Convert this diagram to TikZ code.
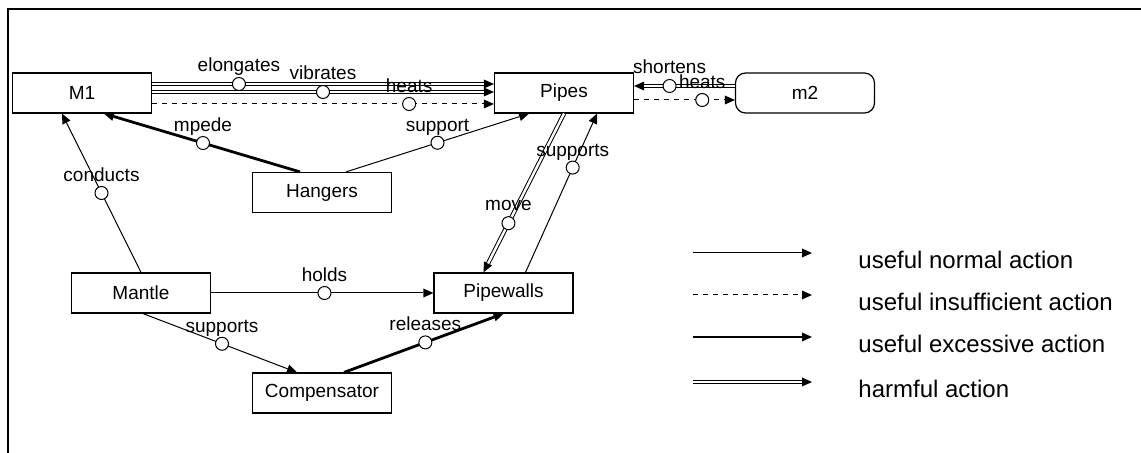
\documentclass[tikz,border=0pt]{standalone}
\usepackage{fontspec}
\setmainfont{Liberation Sans}
\usetikzlibrary{positioning, arrows.meta}

\tikzset{
  box/.style={draw, line width=0.6pt, minimum width=69.5pt, minimum height=20pt, inner sep=0pt, font=\fontsize{9.5}{11}\selectfont},
  mbox/.style={box, rounded corners=5pt},
  ring/.style={circle, draw, solid, fill=white, line width=0.5pt, minimum size=6.5pt, inner sep=0pt},
  lbl/.style={font=\fontsize{9.5}{11}\selectfont, inner sep=1.8pt, text depth=0pt},
  key/.style={font=\fontsize{12}{14}\selectfont, inner sep=0pt},
  tip/.style={-{Triangle[length=5pt, width=4.5pt, line width=0pt]}},
  normal/.style={line width=0.5pt, tip},
  insuff/.style={normal, dash pattern=on 2.5pt off 2.5pt},
  excess/.style={line width=1.4pt, tip},
  harm/.style={line width=2.2pt, tip, postaction={draw=white, line width=1.2pt, -, shorten >=5pt}},
}

\begin{document}
\begin{tikzpicture}[x=0.5pt, y=-0.5pt, on grid]
        \useasboundingbox (0,0) rectangle (1141,453);
        % frame
        \draw[line width=1pt] (8,453) -- (8,9) -- (1141,9);

        \node[box] (m1) at (82,93) {M1};
        \node[box] (pipes) [right=241pt of m1] {Pipes};
        \node[mbox] (m2) [right=120.5pt of pipes] {m2};
        \node[box] (hangers) [below right=49.75pt and 120pt of m1] {Hangers};
        \node[box] (mantle) [below right=100pt and 29.5pt of m1] {Mantle};
        \node[box] (pipewalls) [right=181.25pt of mantle] {Pipewalls};
        \node[box] (comp) [below right=50pt and 90.5pt of mantle] {Compensator};

        \path
        ([yshift=4.5pt]m1.east) edge [harm] node[ring, pos=0.254, label={[lbl]above:elongates}] (elong) {} ([yshift=4.5pt]pipes.west)
        ([yshift=0.5pt]m1.east) edge [harm] node[ring, pos=0.5, label={[lbl]above:vibrates}] (vibr) {} ([yshift=0.5pt]pipes.west)
        ([yshift=-5.5pt]m1.east) edge [insuff] node[ring, pos=0.752, label={[lbl]above:heats}] (heat) {} ([yshift=-5.5pt]pipes.west)
        ([yshift=3.5pt]m2.west) edge [harm] node[ring, pos=0.648, label={[lbl]above:shortens}] (short) {} ([yshift=3.5pt]pipes.east)
        ([yshift=-3.5pt]pipes.east) edge [insuff] node[ring, pos=0.676, label={[lbl]above:heats}] (heatb) {} ([yshift=-3.5pt]m2.west)
        ([xshift=-11pt]hangers.north) edge [excess] node[ring, pos=0.495, label={[lbl]above:mpede}] (imp) {} ([xshift=11pt]m1.south)
        ([xshift=12pt]hangers.north) edge [normal] node[ring, pos=0.5, label={[lbl]above:support}] (supp) {} ([xshift=-17.5pt]pipes.south)
        (mantle.north) edge [normal] node[ring, pos=0.5, label={[lbl]above:conducts}] (cond) {} ([xshift=-10pt]m1.south)
        (mantle) edge [normal] node[ring, pos=0.51, label={[lbl]above:holds}] (hold) {} (pipewalls)
        ([xshift=1pt]mantle.south) edge [normal] node[ring, pos=0.513, label={[lbl]above:supports}] (suppa) {} ([xshift=-12.5pt]comp.north)
        ([xshift=11pt]comp.north) edge [excess] node[ring, pos=0.51, label={[lbl]above:releases}] (rel) {} (pipewalls.south)
        (pipes.south) edge [harm] node[ring, pos=0.69, label={[lbl]above:move}] (mov) {} ([xshift=-10pt]pipewalls.north)
        ([xshift=11pt]pipewalls.north) edge [normal] node[ring, pos=0.66, label={[lbl]above:supports}] (suppb) {} ([xshift=16.5pt]pipes.south);

        % legend
        \foreach \y/\sty/\txt [count=\i] in {253/normal/useful normal action,
                295/insuff/useful insufficient action,
                337/excess/useful excessive action,
                382/harm/harmful action} {
            \coordinate (la\i) at (693,\y);
            \coordinate (lb\i) at (812,\y);
            \node[key, anchor=west] (key\i) at (858,\y+6.5) {\txt};
            \draw[\sty] (la\i) -- (lb\i);
        }
    \end{tikzpicture}
\end{document}
